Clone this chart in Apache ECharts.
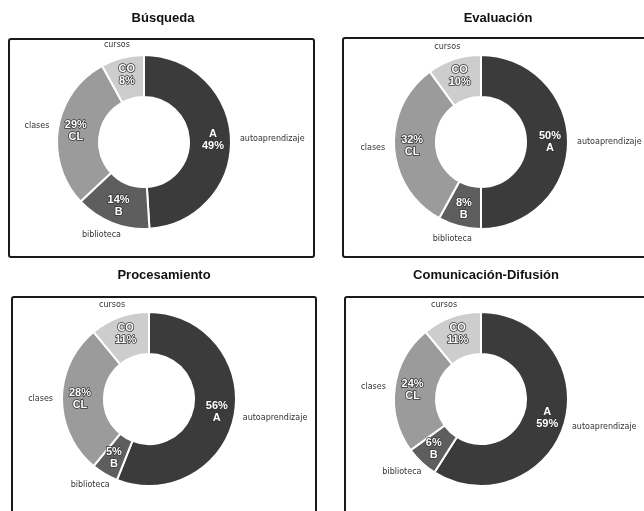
<!DOCTYPE html>
<html>
<head>
<meta charset="utf-8">
<script src="https://cdn.jsdelivr.net/npm/echarts@6/dist/echarts.min.js"></script>
<style>
html, body { margin: 0; background: #fff; }
#chart { width: 644px; height: 511px; }
</style>
</head>
<body>
<div id="chart"></div>
<script>
// categorías (mismo orden en los cuatro gráficos, en sentido horario desde arriba)
const categories = ['autoaprendizaje', 'biblioteca', 'clases', 'cursos']
const codes = ['A', 'B', 'CL', 'CO']
const titles = ['Búsqueda', 'Evaluación', 'Procesamiento', 'Comunicación-Difusión']
// porcentajes de cada gráfico
const busqueda = [49, 14, 29, 8]
const evaluacion = [50, 8, 32, 10]
const procesamiento = [56, 5, 28, 11]
const comunicacion = [59, 6, 24, 11]
// true: el código va encima del porcentaje
const busquedaCodeFirst = [true, false, false, true]
const evaluacionCodeFirst = [false, false, false, true]
const procesamientoCodeFirst = [false, false, false, true]
const comunicacionCodeFirst = [true, false, false, true]

const values = [busqueda, evaluacion, procesamiento, comunicacion]
const codeFirst = [busquedaCodeFirst, evaluacionCodeFirst, procesamientoCodeFirst, comunicacionCodeFirst]

// colores de los sectores
const sliceColors = ['#3b3b3b', '#5e5e5e', '#9b9b9b', '#cdcdcd']

// posición de cada panel
const panels = [
  { title: [163, 20], box: [9, 39, 305, 218], center: [144, 142] },
  { title: [498, 20], box: [343, 38, 320, 219], center: [481, 142] },
  { title: [164, 277], box: [12, 297, 304, 230], center: [149, 399] },
  { title: [486, 277], box: [345, 297, 320, 230], center: [481, 399] }
]
const innerR = 45
const outerR = 87
// separación entre el anillo y el nombre de la categoría
const labelGap = 9

const myChart = echarts.init(document.getElementById('chart'))

const title = []
const series = []
const graphic = []

panels.forEach(function (p, i) {
  title.push({
    text: titles[i],
    left: p.title[0],
    top: p.title[1] - 8,
    textAlign: 'center',
    padding: 0,
    textStyle: {
      fontFamily: 'Liberation Sans',
      fontSize: 13,
      fontWeight: 'bold',
      color: '#111'
    }
  })
  // marco del panel
  graphic.push({
    type: 'rect',
    shape: { x: p.box[0], y: p.box[1], width: p.box[2], height: p.box[3], r: 2 },
    style: { fill: 'none', stroke: '#1a1a1a', lineWidth: 2 },
    silent: true
  })
  const vals = values[i]
  const total = vals.reduce(function (a, b) { return a + b }, 0)
  // nombres fuera del anillo, centrados como en Excel
  series.push({
    type: 'pie',
    center: p.center,
    radius: [innerR, outerR],
    startAngle: 90,
    silent: true,
    avoidLabelOverlap: false,
    itemStyle: { color: 'rgba(0,0,0,0)', borderWidth: 0 },
    data: categories.map(function (c, k) {
      return { name: c, value: vals[k] }
    }),
    label: {
      position: 'outside',
      fontFamily: 'DejaVu Sans',
      fontSize: 8,
      color: '#333',
      formatter: '{b}'
    },
    labelLine: { show: false, length: 4, length2: 0 },
    labelLayout: function (params) {
      const k = params.dataIndex
      let before = 0
      for (let j = 0; j < k; j++) before += vals[j]
      const ang = (before + vals[k] / 2) / total * Math.PI * 2
      const ux = Math.sin(ang)
      const uy = -Math.cos(ang)
      const w = params.labelRect.width
      const h = params.labelRect.height
      return {
        x: p.center[0] + (outerR + labelGap) * ux + ux * w / 2,
        y: p.center[1] + (outerR + labelGap) * uy + uy * h / 2,
        align: 'center',
        verticalAlign: 'middle'
      }
    }
  })
  // anillo con código y porcentaje
  series.push({
    type: 'pie',
    center: p.center,
    radius: [innerR, outerR],
    startAngle: 90,
    silent: true,
    data: categories.map(function (c, k) {
      return { name: c, value: vals[k], itemStyle: { color: sliceColors[k] } }
    }),
    itemStyle: { borderColor: '#fff', borderWidth: 2 },
    label: {
      position: 'inside',
      fontFamily: 'Liberation Sans',
      fontSize: 11,
      fontWeight: 'bold',
      lineHeight: 12,
      color: '#fff',
      textBorderColor: '#333',
      textBorderWidth: 1.5,
      formatter: function (params) {
        const k = params.dataIndex
        const pct = params.value + '%'
        return codeFirst[i][k] ? codes[k] + '\n' + pct : pct + '\n' + codes[k]
      }
    },
    labelLine: { show: false }
  })
})

myChart.setOption({
  animation: false,
  backgroundColor: '#fff',
  title: title,
  graphic: graphic,
  series: series
})
window.addEventListener('resize', function () {
  myChart.resize()
})
</script>
</body>
</html>
